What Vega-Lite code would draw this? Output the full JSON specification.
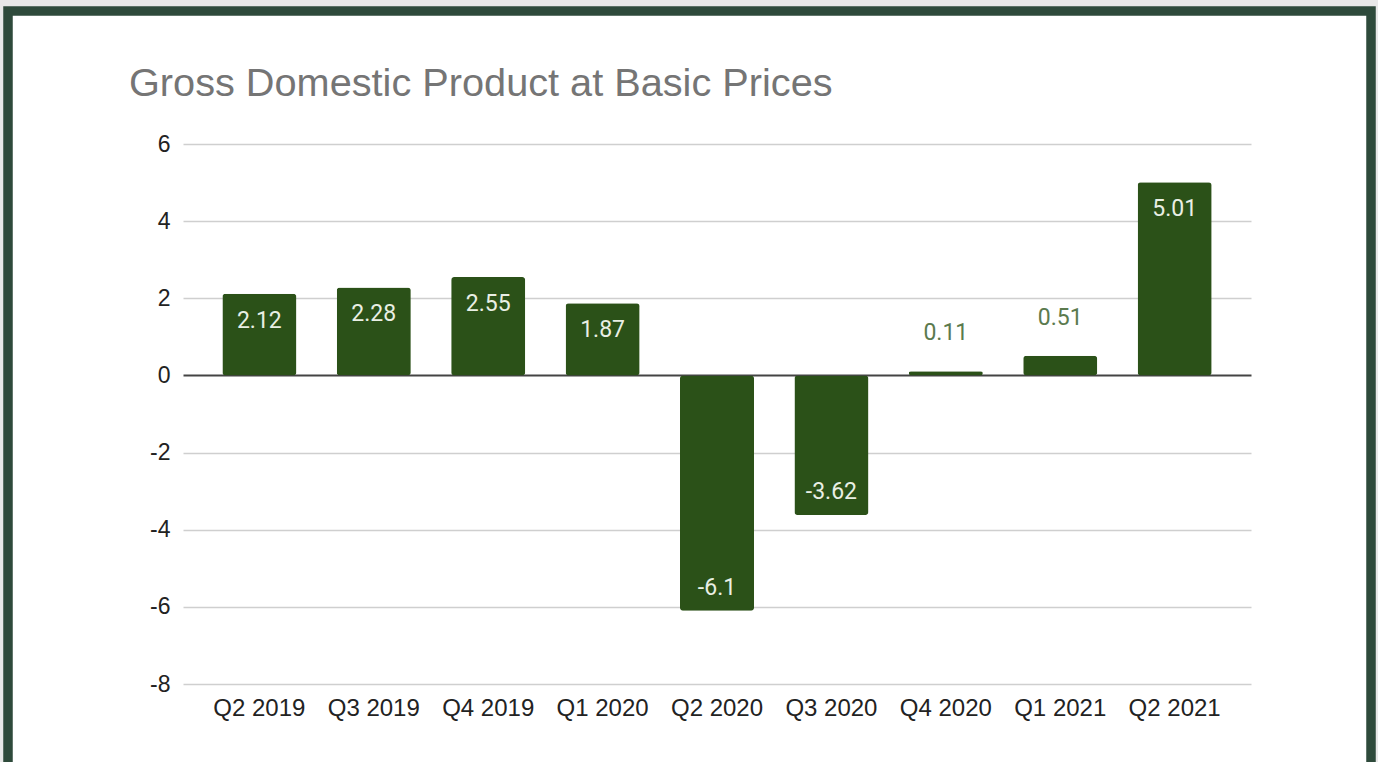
{
  "$schema": "https://vega.github.io/schema/vega-lite/v6.json",
  "autosize": {"type": "none"},
  "width": 1363,
  "height": 756,
  "padding": {"left": 8, "top": 11, "right": 7, "bottom": -5},
  "background": "#e8e8e8",
  "view": {"fill": "#ffffff", "stroke": "#2e4a3b", "strokeWidth": 9.5},
  "config": {
    "locale": {
      "number": {"decimal": ".", "thousands": ",", "grouping": [3], "currency": ["$", ""], "minus": "-"}
    }
  },
  "title": {
    "text": "Gross Domestic Product at Basic Prices",
    "anchor": "start",
    "frame": "group",
    "font": "Liberation Sans",
    "fontSize": 39.7,
    "fontWeight": "normal",
    "color": "#757575",
    "baseline": "alphabetic",
    "offset": 0,
    "dx": 121,
    "dy": 125
  },
  "data": {
    "values": [
      {"quarter": "Q2 2019", "gdp": 2.12},
      {"quarter": "Q3 2019", "gdp": 2.28},
      {"quarter": "Q4 2019", "gdp": 2.55},
      {"quarter": "Q1 2020", "gdp": 1.87},
      {"quarter": "Q2 2020", "gdp": -6.1},
      {"quarter": "Q3 2020", "gdp": -3.62},
      {"quarter": "Q4 2020", "gdp": 0.11},
      {"quarter": "Q1 2021", "gdp": 0.51},
      {"quarter": "Q2 2021", "gdp": 5.01}
    ]
  },
  "encoding": {
    "x": {
      "field": "quarter",
      "type": "nominal",
      "sort": null,
      "scale": {"range": [175, 1243], "paddingInner": 0.353, "paddingOuter": 0.344},
      "axis": {
        "title": null,
        "orient": "bottom",
        "offset": -83,
        "domain": false,
        "ticks": false,
        "tickSize": 0,
        "grid": false,
        "labelAngle": 0,
        "labelPadding": 12,
        "labelFont": "Liberation Sans",
        "labelFontSize": 24,
        "labelColor": "#222222"
      }
    },
    "y": {
      "field": "gdp",
      "type": "quantitative",
      "scale": {"domain": [-8, 6], "range": [673, 133], "nice": false, "zero": false},
      "axis": {
        "title": null,
        "values": [-8, -6, -4, -2, 0, 2, 4, 6],
        "offset": -175,
        "domain": false,
        "ticks": false,
        "tickSize": 0,
        "labelPadding": 13,
        "labelFont": "Liberation Sans",
        "labelFontSize": 23,
        "labelColor": "#222222",
        "grid": true,
        "gridColor": {"condition": {"test": "datum.value === 0", "value": "#444444"}, "value": "#cfcfcf"},
        "gridWidth": {"condition": {"test": "datum.value === 0", "value": 2}, "value": 1.3}
      }
    }
  },
  "layer": [
    {
      "mark": {"type": "bar", "color": "#2b5118", "cornerRadius": 3}
    },
    {
      "transform": [{"filter": "datum.gdp >= 1"}],
      "mark": {"type": "text", "font": "Roboto", "fontSize": 23, "color": "#e9efe4", "baseline": "middle", "dy": 27},
      "encoding": {"text": {"field": "gdp", "type": "quantitative"}}
    },
    {
      "transform": [{"filter": "datum.gdp < 0"}],
      "mark": {"type": "text", "font": "Roboto", "fontSize": 23, "color": "#e9efe4", "baseline": "middle", "dy": -23},
      "encoding": {"text": {"field": "gdp", "type": "quantitative"}}
    },
    {
      "transform": [{"filter": "datum.gdp >= 0 && datum.gdp < 1"}],
      "mark": {"type": "text", "font": "Roboto", "fontSize": 23, "color": "#5b7a4e", "baseline": "middle", "dy": -38},
      "encoding": {"text": {"field": "gdp", "type": "quantitative"}}
    }
  ]
}
